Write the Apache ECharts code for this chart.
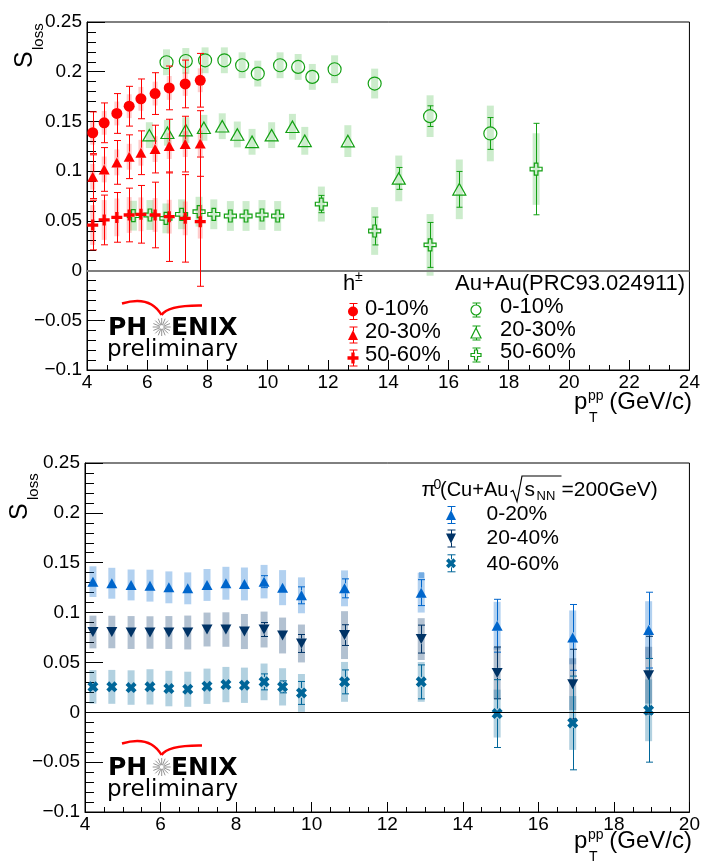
<!DOCTYPE html>
<html>
<head>
<meta charset="utf-8">
<script src="https://cdn.jsdelivr.net/npm/echarts@6/dist/echarts.min.js"></script>
<style>
html,body{margin:0;padding:0;background:#fff;}
#c{width:703px;height:863px;}
</style>
</head>
<body>
<div id="c"></div>
<script>
// ---------------- DATA ----------------
// Top panel: h± (this analysis), pT^pp in GeV/c
const h_x = [4.19, 4.57, 4.99, 5.40, 5.79, 6.26, 6.73, 7.26, 7.76];
const h010_y = [0.1386, 0.1486, 0.158, 0.1653, 0.1727, 0.178, 0.1837, 0.1877, 0.1914];
const h010_stat = [0.021, 0.02, 0.02, 0.02, 0.02, 0.021, 0.022, 0.024, 0.027];
const h010_sys = [0.012, 0.012, 0.012, 0.012, 0.012, 0.012, 0.012, 0.012, 0.012];
const h2030_y = [0.0944, 0.1017, 0.1088, 0.1145, 0.1185, 0.1222, 0.1252, 0.1272, 0.1278];
const h2030_stat = [0.022, 0.022, 0.022, 0.022, 0.022, 0.024, 0.027, 0.028, 0.033];
const h2030_sys = [0.013, 0.013, 0.013, 0.013, 0.013, 0.013, 0.013, 0.013, 0.013];
const h5060_y = [0.0458, 0.0509, 0.0535, 0.0559, 0.0566, 0.0559, 0.0542, 0.0525, 0.0492];
const h5060_stat = [0.025, 0.025, 0.025, 0.027, 0.029, 0.033, 0.045, 0.044, 0.065];
const h5060_sys = [0.02, 0.02, 0.019, 0.018, 0.017, 0.017, 0.017, 0.017, 0.017];

// Top panel: Au+Au (PRC93.024911)
const au010_x = [6.64, 7.28, 7.92, 8.56, 9.15, 9.67, 10.41, 11.01, 11.48, 12.22, 13.55, 15.39, 17.39];
const au010_y = [0.2095, 0.2108, 0.2115, 0.2115, 0.2065, 0.1981, 0.2065, 0.2048, 0.1948, 0.2025, 0.1881, 0.1553, 0.1379];
const au010_stat = [0.003, 0.003, 0.003, 0.003, 0.003, 0.003, 0.003, 0.003, 0.003, 0.004, 0.005, 0.0104, 0.016];
const au010_sys = [0.013, 0.013, 0.013, 0.013, 0.013, 0.013, 0.013, 0.013, 0.013, 0.014, 0.015, 0.021, 0.028];
const au2030_x = [6.07, 6.67, 7.28, 7.88, 8.49, 8.99, 9.48, 10.13, 10.82, 11.23, 12.66, 14.35, 16.36];
const au2030_y = [0.1362, 0.1386, 0.1412, 0.1436, 0.1452, 0.1369, 0.1295, 0.1362, 0.1446, 0.1305, 0.1302, 0.0927, 0.0817];
const au2030_stat = [0.003, 0.003, 0.003, 0.003, 0.003, 0.003, 0.003, 0.003, 0.003, 0.003, 0.004, 0.011, 0.018];
const au2030_sys = [0.013, 0.013, 0.013, 0.013, 0.013, 0.013, 0.013, 0.013, 0.013, 0.014, 0.016, 0.023, 0.03];
const au5060_x = [5.54, 6.09, 6.62, 7.14, 7.72, 8.21, 8.76, 9.28, 9.81, 10.33, 11.78, 13.55, 15.39, 18.91];
const au5060_y = [0.0552, 0.0559, 0.0525, 0.0566, 0.0592, 0.0566, 0.0549, 0.0549, 0.0559, 0.0549, 0.0669, 0.0398, 0.0258, 0.1021];
const au5060_stat = [0.003, 0.003, 0.003, 0.003, 0.003, 0.003, 0.003, 0.003, 0.004, 0.004, 0.0087, 0.014, 0.0226, 0.046];
const au5060_sys = [0.015, 0.015, 0.015, 0.015, 0.015, 0.015, 0.015, 0.015, 0.015, 0.015, 0.0176, 0.024, 0.031, 0.036];

// Bottom panel: pi0, Cu+Au
const pi_x = [4.21, 4.71, 5.22, 5.72, 6.22, 6.72, 7.23, 7.73, 8.22, 8.74, 9.23, 9.73, 10.87, 12.9, 14.91, 16.91, 18.92];
const pi020_y = [0.131, 0.1294, 0.1277, 0.127, 0.1253, 0.1243, 0.1277, 0.1294, 0.1287, 0.131, 0.125, 0.1173, 0.1243, 0.12, 0.0868, 0.0751, 0.0824];
const pi020_stat = [0.004, 0.004, 0.004, 0.004, 0.004, 0.004, 0.004, 0.004, 0.004, 0.006, 0.005, 0.0085, 0.0095, 0.013, 0.0265, 0.033, 0.038];
const pi020_sys = [0.0154, 0.0155, 0.0155, 0.016, 0.016, 0.016, 0.016, 0.0165, 0.0165, 0.0168, 0.0176, 0.018, 0.018, 0.02, 0.024, 0.027, 0.029];
const pi2040_y = [0.0805, 0.0805, 0.08, 0.08, 0.08, 0.08, 0.083, 0.083, 0.081, 0.083, 0.077, 0.069, 0.0774, 0.0734, 0.0395, 0.0282, 0.0372];
const pi2040_stat = [0.004, 0.004, 0.004, 0.004, 0.004, 0.004, 0.004, 0.004, 0.004, 0.007, 0.005, 0.009, 0.0104, 0.014, 0.026, 0.035, 0.039];
const pi2040_sys = [0.0164, 0.0163, 0.0165, 0.0163, 0.0165, 0.017, 0.017, 0.0173, 0.0176, 0.018, 0.018, 0.019, 0.024, 0.021, 0.026, 0.026, 0.0285];
const pi4060_y = [0.0255, 0.0255, 0.0248, 0.0255, 0.0238, 0.0231, 0.0261, 0.0278, 0.0271, 0.0305, 0.0255, 0.0194, 0.0305, 0.0305, -0.0013, -0.0107, 0.002];
const pi4060_stat = [0.004, 0.004, 0.004, 0.004, 0.004, 0.004, 0.004, 0.004, 0.004, 0.008, 0.006, 0.0115, 0.012, 0.017, 0.034, 0.047, 0.052];
const pi4060_sys = [0.0168, 0.017, 0.0173, 0.0177, 0.0178, 0.0176, 0.0177, 0.0177, 0.0177, 0.0184, 0.0187, 0.019, 0.02, 0.02, 0.024, 0.027, 0.031];

// Labels
const topLegendTitleLeft = 'h';
const topLegendTitleRight = 'Au+Au(PRC93.024911)';
const topCentralities = ['0-10%', '20-30%', '50-60%'];
const botCentralities = ['0-20%', '20-40%', '40-60%'];

// ---------------- STYLE ----------------
const FONT = '"Liberation Sans", Arial, Helvetica, sans-serif';
const LOGOFONT = '"DejaVu Sans", Verdana, sans-serif';
const RED = '#ff0000', RED_SYS = 'rgba(255,0,0,0.2)';
const GREEN = '#13a013', GREEN_SYS = 'rgba(0,160,0,0.2)';
const BLUE = '#0066cc', BLUE_SYS = 'rgba(0,102,204,0.3)';
const NAVY = '#003366', NAVY_SYS = 'rgba(0,51,102,0.3)';
const TEAL = '#006699', TEAL_SYS = 'rgba(0,102,153,0.3)';
const PLUS_PTS = [[3.5,0],[6.5,0],[6.5,3.5],[10,3.5],[10,6.5],[6.5,6.5],[6.5,10],[3.5,10],[3.5,6.5],[0,6.5],[0,3.5],[3.5,3.5]];
const X_PTS = [[0,2.6],[2.6,0],[5,2.4],[7.4,0],[10,2.6],[7.6,5],[10,7.4],[7.4,10],[5,7.6],[2.6,10],[0,7.4],[2.4,5]];
const toPath = pts => 'path://M' + pts.map(p => p[0] + ',' + p[1]).join(' L') + ' Z';
const PLUS = toPath(PLUS_PTS);
const XMARK = toPath(X_PTS);

function zip(xs, ys, es) { return xs.map((x, i) => es ? [x, ys[i], es[i]] : [x, ys[i]]); }

function mkSys(xs, ys, es, fill, w, ai, z) {
  return {
    type: 'custom', xAxisIndex: ai, yAxisIndex: ai, z: z, silent: true, clip: true,
    data: zip(xs, ys, es), encode: { x: 0, y: 1 },
    renderItem: function (p, api) {
      const x = api.value(0), y = api.value(1), e = api.value(2);
      const t = api.coord([x, y + e]), b = api.coord([x, y - e]);
      return { type: 'rect', shape: { x: t[0] - w / 2, y: t[1], width: w, height: b[1] - t[1] }, style: { fill: fill } };
    }
  };
}
function mkStat(xs, ys, es, color, gap, cap, ai, z) {
  return {
    type: 'custom', xAxisIndex: ai, yAxisIndex: ai, z: z, silent: true, clip: true,
    data: zip(xs, ys, es), encode: { x: 0, y: 1 },
    renderItem: function (p, api) {
      const x = api.value(0), y = api.value(1), e = api.value(2);
      const c = api.coord([x, y]), t = api.coord([x, y + e]), b = api.coord([x, y - e]);
      const cx = Math.round(c[0]) + 0.5;
      const st = { stroke: color, lineWidth: 1 };
      const ch = [];
      if (c[1] - t[1] > gap + 0.5) {
        ch.push({ type: 'line', shape: { x1: cx, y1: t[1], x2: cx, y2: c[1] - gap }, style: st });
        ch.push({ type: 'line', shape: { x1: cx - cap / 2, y1: t[1], x2: cx + cap / 2, y2: t[1] }, style: st });
      }
      if (b[1] - c[1] > gap + 0.5) {
        ch.push({ type: 'line', shape: { x1: cx, y1: c[1] + gap, x2: cx, y2: b[1] }, style: st });
        ch.push({ type: 'line', shape: { x1: cx - cap / 2, y1: b[1], x2: cx + cap / 2, y2: b[1] }, style: st });
      }
      return { type: 'group', children: ch };
    }
  };
}
function mkPts(xs, ys, sym, size, rot, fill, stroke, bw, ai, z) {
  return {
    type: 'scatter', xAxisIndex: ai, yAxisIndex: ai, z: z, silent: true,
    data: zip(xs, ys), symbol: sym, symbolSize: size, symbolRotate: rot,
    itemStyle: { color: fill, borderColor: stroke, borderWidth: bw, opacity: 1 },
    emphasis: { disabled: true }
  };
}

const fmtY = v => String(Math.round(v * 100) / 100).replace('-', '\u2212');

function xAx(gi, max, minorSplit) {
  return {
    gridIndex: gi, type: 'value', min: 4, max: max, interval: 2,
    axisLine: { show: true, onZero: false, lineStyle: { color: '#000', width: 1 } },
    axisTick: { show: true, inside: true, length: 10, lineStyle: { color: '#000', width: 1 } },
    minorTick: { show: true, splitNumber: minorSplit, length: 5, lineStyle: { color: '#000', width: 1 } },
    axisLabel: { fontSize: 19, color: '#000', fontFamily: FONT, margin: 3, showMinLabel: true, showMaxLabel: true },
    splitLine: { show: false }, minorSplitLine: { show: false }
  };
}
function yAx(gi) {
  return {
    gridIndex: gi, type: 'value', min: -0.1, max: 0.25, interval: 0.05,
    axisLine: { show: true, onZero: false, lineStyle: { color: '#000', width: 1 } },
    axisTick: { show: true, inside: true, length: 18, lineStyle: { color: '#000', width: 1 } },
    minorTick: { show: true, splitNumber: 5, length: 9, lineStyle: { color: '#000', width: 1 } },
    axisLabel: { fontSize: 19, color: '#000', fontFamily: FONT, margin: 5, formatter: fmtY, showMinLabel: true, showMaxLabel: true },
    splitLine: { show: false }, minorSplitLine: { show: false }
  };
}

// ---------------- GRAPHIC helpers (legend, titles, logo) ----------------
function txt(x, y, s, size, opts) {
  opts = opts || {};
  return {
    type: 'text', x: x, y: y, silent: true, rotation: opts.rot || 0,
    style: { text: s, font: (opts.weight || 'normal') + ' ' + size + 'px ' + (opts.family || FONT), fill: opts.fill || '#000',
      align: opts.align || 'left', verticalAlign: 'middle' }
  };
}
function poly(pts, cx, cy, size, fill, stroke, lw) {
  return { type: 'polygon', silent: true,
    shape: { points: pts.map(p => [cx + (p[0] - 5) * size / 10, cy + (p[1] - 5) * size / 10]) },
    style: { fill: fill, stroke: stroke, lineWidth: lw } };
}
function marker(kind, cx, cy, size, fill, stroke, lw) {
  if (kind === 'circle') return { type: 'circle', silent: true, shape: { cx: cx, cy: cy, r: size / 2 }, style: { fill: fill, stroke: stroke, lineWidth: lw } };
  if (kind === 'up') return poly([[5, 0], [10, 10], [0, 10]], cx, cy, size, fill, stroke, lw);
  if (kind === 'down') return poly([[0, 0], [10, 0], [5, 10]], cx, cy, size, fill, stroke, lw);
  if (kind === 'plus') return poly(PLUS_PTS, cx, cy, size, fill, stroke, lw);
  return poly(X_PTS, cx, cy, size, fill, stroke, lw);
}
function lbar(cx, cy, half, gap, color) {
  const x = Math.round(cx) + 0.5;
  const st = { stroke: color, lineWidth: 1 };
  return [
    { type: 'line', silent: true, shape: { x1: x, y1: cy - half, x2: x, y2: cy - gap }, style: st },
    { type: 'line', silent: true, shape: { x1: x - 4, y1: cy - half, x2: x + 4, y2: cy - half }, style: st },
    { type: 'line', silent: true, shape: { x1: x, y1: cy + gap, x2: x, y2: cy + half }, style: st },
    { type: 'line', silent: true, shape: { x1: x - 4, y1: cy + half, x2: x + 4, y2: cy + half }, style: st }
  ];
}
function sLoss(sx, sy, lx, ly) {
  return [
    txt(sx, sy, 'S', 25, { rot: Math.PI / 2 }),
    txt(lx, ly, 'loss', 15, { rot: Math.PI / 2 })
  ];
}
function ptTitle(dy) {
  return [
    txt(574, 402.6 + dy, 'p', 24),
    txt(588, 396 + dy, 'pp', 14),
    txt(589, 418 + dy, 'T', 14),
    txt(692, 402.6 + dy, '(GeV/c)', 24, { align: 'right' })
  ];
}
function logo(dy) {
  const els = [];
  els.push({ type: 'bezierCurve', silent: true, shape: { x1: 122, y1: 303.5 + dy, cpx1: 150, cpy1: 295 + dy, x2: 161.5, y2: 315 + dy }, style: { stroke: RED, lineWidth: 2.4, fill: null } });
  els.push({ type: 'bezierCurve', silent: true, shape: { x1: 161.5, y1: 315 + dy, cpx1: 168, cpy1: 305 + dy, x2: 202, y2: 305.5 + dy }, style: { stroke: RED, lineWidth: 2.4, fill: null } });
  els.push(txt(108, 328 + dy, 'PH', 25, { weight: 'bold', family: LOGOFONT }));
  const cx = 161.7, cy = 327 + dy;
  for (let k = 0; k < 16; k++) {
    const a = k * Math.PI / 8;
    els.push({ type: 'line', silent: true, shape: { x1: cx + 2 * Math.cos(a), y1: cy + 2 * Math.sin(a), x2: cx + 9 * Math.cos(a), y2: cy + 9 * Math.sin(a) }, style: { stroke: '#777', lineWidth: 0.8 } });
  }
  els.push(txt(171, 328 + dy, 'ENIX', 25, { weight: 'bold', family: LOGOFONT }));
  els.push(txt(107, 350 + dy, 'preliminary', 23, { family: LOGOFONT }));
  return els;
}

const graphics = [];
// y-axis titles
graphics.push(...sLoss(25, 68, 39, 50));
graphics.push(...sLoss(20, 520, 34, 500));
// x-axis titles
graphics.push(...ptTitle(0));
graphics.push(...ptTitle(439));
// logos
graphics.push(...logo(0));
graphics.push(...logo(440));

// top legend
graphics.push(txt(343, 284.3, topLegendTitleLeft, 22));
graphics.push(txt(355, 277, '\u00b1', 14));
graphics.push(txt(455, 284.3, topLegendTitleRight, 22));
const redRows = [311.5, 335, 358], redTxt = [309.3, 332.3, 355.3];
const grnRows = [310, 333, 355], grnTxt = [307.3, 330.3, 352.3];
const redKinds = ['circle', 'up', 'plus'];
const redSizes = [10, 10, 11];
for (let i = 0; i < 3; i++) {
  graphics.push(...lbar(353, redRows[i], 8, 4, RED));
  graphics.push(marker(redKinds[i], 353, redRows[i], redSizes[i], RED, RED, 0));
  graphics.push(txt(365, redTxt[i], topCentralities[i], 22));
  graphics.push(...lbar(476, grnRows[i], 7, 5, GREEN));
  graphics.push(marker(redKinds[i], 476, grnRows[i], 10, 'rgba(0,0,0,0)', GREEN, 1.2));
  graphics.push(txt(500, grnTxt[i], topCentralities[i], 22));
}

// bottom legend
graphics.push(txt(421.5, 490, '\u03c0', 21));
graphics.push(txt(433.5, 485, '0', 14));
graphics.push(txt(440, 490, '(Cu+Au', 20));
graphics.push({ type: 'polyline', silent: true, shape: { points: [[510.5, 492], [513, 490.5], [517, 501.5], [522, 476], [561.5, 476]] }, style: { stroke: '#000', lineWidth: 1.2, fill: null } });
graphics.push(txt(524.5, 490, 's', 21));
graphics.push(txt(536.5, 496.5, 'NN', 13));
graphics.push(txt(561.5, 490, '=200GeV)', 21));
const botRows = [515, 538.5, 563.3], botTxt = [514.3, 538.7, 564.3];
const botKinds = ['up', 'down', 'x'], botCols = [BLUE, NAVY, TEAL];
for (let i = 0; i < 3; i++) {
  graphics.push(...lbar(451, botRows[i], 8.5, 4, botCols[i]));
  graphics.push(marker(botKinds[i], 451, botRows[i], 10, botCols[i], botCols[i], 0));
  graphics.push(txt(486.5, botTxt[i], botCentralities[i], 21));
}
graphics.push({ type: 'rect', silent: true, shape: { x: 419, y: 572, width: 5, height: 6 }, style: { fill: 'rgba(0,102,204,0.35)' } });

// ---------------- CHART ----------------
const chart = echarts.init(document.getElementById('c'), null, { renderer: 'canvas' });
const series = [
  // top panel
  Object.assign(mkPts([], [], 'none', 0, 0, '#000', '#000', 0, 0, 0), {
    markLine: { silent: true, symbol: ['none', 'none'], label: { show: false }, animation: false,
      lineStyle: { color: '#7f7f7f', width: 2, type: 'solid' }, data: [{ yAxis: 0 }] }
  }),
  mkSys(au010_x, au010_y, au010_sys, GREEN_SYS, 7, 0, 1),
  mkSys(au2030_x, au2030_y, au2030_sys, GREEN_SYS, 7, 0, 1),
  mkSys(au5060_x, au5060_y, au5060_sys, GREEN_SYS, 7, 0, 1),
  mkSys(h_x, h010_y, h010_sys, RED_SYS, 5, 0, 2),
  mkSys(h_x, h2030_y, h2030_sys, RED_SYS, 5, 0, 2),
  mkSys(h_x, h5060_y, h5060_sys, RED_SYS, 5, 0, 2),
  mkStat(au010_x, au010_y, au010_stat, GREEN, 6.5, 6, 0, 3),
  mkStat(au2030_x, au2030_y, au2030_stat, GREEN, 5.5, 6, 0, 3),
  mkStat(au5060_x, au5060_y, au5060_stat, GREEN, 6, 6, 0, 3),
  mkPts(au010_x, au010_y, 'circle', 13, 0, 'rgba(0,0,0,0)', GREEN, 1.2, 0, 4),
  mkPts(au2030_x, au2030_y, 'triangle', [13, 11.5], 0, 'rgba(0,0,0,0)', GREEN, 1.2, 0, 4),
  mkPts(au5060_x, au5060_y, PLUS, 12, 0, 'rgba(0,0,0,0)', GREEN, 1.2, 0, 4),
  mkStat(h_x, h010_y, h010_stat, RED, 5, 7, 0, 5),
  mkStat(h_x, h2030_y, h2030_stat, RED, 5, 7, 0, 5),
  mkStat(h_x, h5060_y, h5060_stat, RED, 5, 7, 0, 5),
  mkPts(h_x, h010_y, 'circle', 11, 0, RED, RED, 0, 0, 6),
  mkPts(h_x, h2030_y, 'triangle', [11, 10], 0, RED, RED, 0, 0, 6),
  mkPts(h_x, h5060_y, PLUS, 11, 0, RED, RED, 0, 0, 6),
  // bottom panel
  Object.assign(mkPts([], [], 'none', 0, 0, '#000', '#000', 0, 1, 0), {
    markLine: { silent: true, symbol: ['none', 'none'], label: { show: false }, animation: false,
      lineStyle: { color: '#000', width: 1.2, type: 'solid' }, data: [{ yAxis: 0 }] }
  }),
  mkSys(pi_x, pi020_y, pi020_sys, BLUE_SYS, 7, 1, 1),
  mkSys(pi_x, pi2040_y, pi2040_sys, NAVY_SYS, 7, 1, 1),
  mkSys(pi_x, pi4060_y, pi4060_sys, TEAL_SYS, 7, 1, 1),
  mkStat(pi_x, pi020_y, pi020_stat, BLUE, 5, 7, 1, 3),
  mkStat(pi_x, pi2040_y, pi2040_stat, NAVY, 5, 7, 1, 3),
  mkStat(pi_x, pi4060_y, pi4060_stat, TEAL, 5, 7, 1, 3),
  mkPts(pi_x, pi020_y, 'triangle', [11, 10], 0, BLUE, BLUE, 0, 1, 4),
  mkPts(pi_x, pi2040_y, 'triangle', [11, 10], 180, NAVY, NAVY, 0, 1, 4),
  mkPts(pi_x, pi4060_y, XMARK, 11, 0, TEAL, TEAL, 0, 1, 4)
];

chart.setOption({
  animation: false,
  backgroundColor: '#fff',
  grid: [
    { left: 87, top: 22, width: 605, height: 348, show: true, borderColor: '#000', borderWidth: 1, backgroundColor: 'transparent', containLabel: false },
    { left: 85, top: 463, width: 606, height: 349, show: true, borderColor: '#000', borderWidth: 1, backgroundColor: 'transparent', containLabel: false }
  ],
  xAxis: [xAx(0, 24, 3), xAx(1, 20, 4)],
  yAxis: [yAx(0), yAx(1)],
  series: series,
  graphic: { elements: graphics }
});
</script>
</body>
</html>
